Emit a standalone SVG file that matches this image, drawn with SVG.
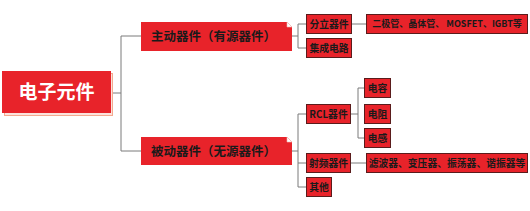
<svg xmlns="http://www.w3.org/2000/svg" width="530" height="211" viewBox="0 0 530 211">
<style>
.bg{fill:#ffffff}
.lk{fill:none;stroke:#7a7a7a;stroke-width:1}
.root{fill:#e8232a}
.rsh{fill:#fbe3dc;stroke:#f3a98f;stroke-width:1}
.l1{fill:#e8232a}
.fold{fill:#ffffff;stroke:#f2b9b4;stroke-width:0.6}
.sm{fill:#e8232a;stroke:#5a1c1c;stroke-width:1}
.t{font-family:"Noto Sans CJK SC","Liberation Sans",sans-serif;fill:#1a1a1a;font-weight:bold}
.tr{font-family:"Noto Sans CJK SC","Liberation Sans",sans-serif;fill:#ffffff;font-size:19px;font-weight:bold}
.t1{font-size:12.5px}
.t2{font-size:9.8px}
.t3{font-size:9px}
</style>
<rect class="bg" x="0" y="0" width="530" height="211"/>
<g id="connectors">
<path class="lk" d="M111 93H121M121 36V151M121 36H141M121 151H141"/>
<path class="lk" d="M292 36H298M298 24V48M298 24H306M298 48H306"/>
<path class="lk" d="M352 24H366"/>
<path class="lk" d="M292 151H298M298 114V187M298 114H306M298 163H306M298 187H306"/>
<path class="lk" d="M351 114H358M358 88V138M358 88H364M358 138H364"/>
<path class="lk" d="M351 163H366"/>
</g>
<g id="root">
<rect class="rsh" x="4.5" y="73.5" width="108" height="42"/>
<rect class="root" x="2" y="71" width="109" height="42"/>
<text class="tr" x="56.5" y="99" text-anchor="middle">电子元件</text>
</g>
<g id="active">
<path class="l1" d="M141 22H287L292 27V51H141Z"/>
<path class="fold" d="M287 22L292 27H287Z"/>
<text class="t t1" x="151" y="41">主动器件（有源器件）</text>
</g>
<g id="passive">
<path class="l1" d="M141 137H287L292 142V165H141Z"/>
<path class="fold" d="M287 137L292 142H287Z"/>
<text class="t t1" x="151" y="155.5">被动器件（无源器件）</text>
</g>
<g id="discrete">
<rect class="sm" x="306.5" y="14.5" width="45" height="19"/>
<text class="t t2" x="329" y="27.5" text-anchor="middle">分立器件</text>
</g>
<g id="ic">
<rect class="sm" x="306.5" y="38.5" width="45" height="19"/>
<text class="t t2" x="329" y="51.5" text-anchor="middle">集成电路</text>
</g>
<g id="discrete-list">
<rect class="sm" x="366.5" y="14.5" width="161" height="19"/>
<text class="t t3" x="447" y="27.3" text-anchor="middle">二极管、晶体管、 MOSFET、IGBT等</text>
</g>
<g id="rcl">
<rect class="sm" x="306.5" y="104.5" width="44" height="19"/>
<text class="t t2" x="328.5" y="117.5" text-anchor="middle">RCL器件</text>
</g>
<g id="rf">
<rect class="sm" x="306.5" y="153.5" width="44" height="19"/>
<text class="t t2" x="328.5" y="166.5" text-anchor="middle">射频器件</text>
</g>
<g id="other">
<rect class="sm" x="306.5" y="177.5" width="25" height="19"/>
<text class="t t2" x="319" y="190.5" text-anchor="middle">其他</text>
</g>
<g id="capacitor">
<rect class="sm" x="364.5" y="78.5" width="26" height="19"/>
<text class="t t2" x="377.5" y="91.5" text-anchor="middle">电容</text>
</g>
<g id="resistor">
<rect class="sm" x="364.5" y="104.5" width="26" height="19"/>
<text class="t t2" x="377.5" y="117.5" text-anchor="middle">电阻</text>
</g>
<g id="inductor">
<rect class="sm" x="364.5" y="128.5" width="26" height="19"/>
<text class="t t2" x="377.5" y="141.5" text-anchor="middle">电感</text>
</g>
<g id="rf-list">
<rect class="sm" x="366.5" y="153.5" width="161" height="19"/>
<text class="t t2" x="447" y="166.5" text-anchor="middle">滤波器、变压器、振荡器、谐振器等</text>
</g>
</svg>
